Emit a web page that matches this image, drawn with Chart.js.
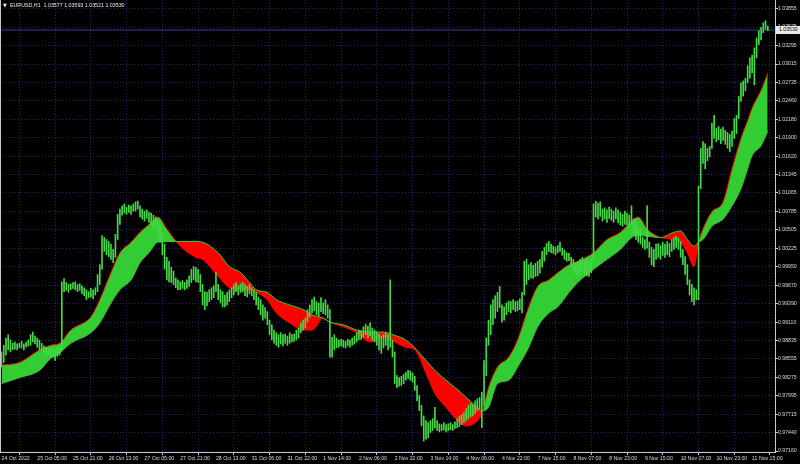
<!DOCTYPE html>
<html>
<head>
<meta charset="utf-8">
<script src="https://cdn.jsdelivr.net/npm/chart.js@4.4.0/dist/chart.umd.min.js"></script>
<style>
  html, body { margin: 0; padding: 0; background: #000; }
  canvas { display: block; }
</style>
</head>
<body>
<canvas id="chart" width="800" height="464"></canvas>
<script>
const symbolName = 'EURUSD,H1';
const lastBarOHLC = [1.03577, 1.03593, 1.03521, 1.03530];

// hourly bars, high / low
const barHigh = [
  0.9866,0.9876,0.9887,0.9892,0.9884,0.9879,0.9881,0.9878,0.9879,0.9882,0.9878,0.9881,0.9884,0.9892,0.9896,0.9890,
  0.9887,0.9884,0.9879,0.9875,0.9873,0.9872,0.9870,0.9872,0.9869,0.9873,0.9876,0.9972,0.9977,0.9971,0.9968,0.9969,
  0.9971,0.9972,0.9968,0.9969,0.9966,0.9963,0.9960,0.9957,0.9962,0.9960,0.9963,0.9983,0.9998,1.0042,1.0039,1.0036,
  1.0033,1.0029,1.0021,1.0044,1.0074,1.0082,1.0087,1.0090,1.0085,1.0088,1.0087,1.0090,1.0093,1.0094,1.0087,1.0082,
  1.0079,1.0081,1.0077,1.0076,1.0073,1.0070,1.0064,1.0058,1.0047,1.0029,1.0009,1.0003,0.9994,0.9988,0.9978,0.9975,
  0.9972,0.9974,0.9971,0.9975,0.9981,0.9991,0.9995,0.9994,0.9991,0.9983,0.9968,0.9957,0.9956,0.9960,0.9963,0.9966,
  0.9986,0.9968,0.9960,0.9957,0.9952,0.9956,0.9960,0.9963,0.9968,0.9971,0.9966,0.9969,0.9971,0.9968,0.9965,0.9968,
  0.9963,0.9960,0.9956,0.9949,0.9945,0.9937,0.9933,0.9927,0.9914,0.9907,0.9899,0.9895,0.9892,0.9895,0.9892,0.9893,
  0.9890,0.9895,0.9892,0.9893,0.9899,0.9902,0.9910,0.9914,0.9917,0.9930,0.9937,0.9945,0.9949,0.9942,0.9940,0.9948,
  0.9940,0.9945,0.9937,0.9930,0.9888,0.9892,0.9887,0.9884,0.9885,0.9884,0.9882,0.9885,0.9884,0.9887,0.9890,0.9895,
  0.9899,0.9898,0.9904,0.9908,0.9905,0.9910,0.9902,0.9899,0.9896,0.9893,0.9890,0.9892,0.9895,0.9892,0.9975,0.9884,
  0.9866,0.9830,0.9827,0.9829,0.9832,0.9835,0.9838,0.9837,0.9834,0.9829,0.9815,0.9800,0.9785,0.9769,0.9762,0.9759,
  0.9762,0.9765,0.9782,0.9762,0.9757,0.9756,0.9759,0.9756,0.9757,0.9759,0.9756,0.9760,0.9765,0.9769,0.9771,0.9774,
  0.9780,0.9785,0.9788,0.9786,0.9792,0.9795,0.9797,0.9805,0.9853,0.9887,0.9914,0.9937,0.9945,0.9951,0.9956,0.9965,
  0.9937,0.9934,0.9940,0.9943,0.9942,0.9945,0.9942,0.9943,0.9946,0.9956,1.0003,1.0006,0.9998,1.0001,0.9997,1.0000,
  1.0003,1.0006,1.0018,1.0024,1.0030,1.0033,1.0029,1.0026,1.0024,1.0027,1.0032,1.0023,1.0020,1.0016,1.0015,1.0009,
  1.0006,1.0001,1.0003,1.0006,1.0009,1.0004,1.0007,1.0003,1.0006,1.0090,1.0094,1.0091,1.0093,1.0082,1.0084,1.0081,
  1.0085,1.0082,1.0079,1.0084,1.0081,1.0077,1.0074,1.0079,1.0076,1.0073,1.0087,1.0067,1.0059,1.0056,1.0052,1.0039,
  1.0036,1.0087,1.0032,1.0024,1.0021,1.0029,1.0030,1.0027,1.0032,1.0029,1.0033,1.0030,1.0036,1.0039,1.0041,1.0038,
  1.0033,1.0021,1.0010,0.9998,0.9975,0.9968,0.9963,0.9960,1.0117,1.0174,1.0184,1.0181,1.0174,1.0177,1.0212,1.0224,
  1.0204,1.0207,1.0203,1.0206,1.0201,1.0198,1.0195,1.0200,1.0219,1.0224,1.0253,1.0273,1.0276,1.0280,1.0299,1.0311,
  1.0315,1.0326,1.0341,1.0352,1.0357,1.0364,1.0367,1.0359
];
const barLow = [
  0.9843,0.9850,0.9861,0.9869,0.9866,0.9869,0.9870,0.9869,0.9872,0.9872,0.9869,0.9873,0.9875,0.9876,0.9881,0.9878,
  0.9873,0.9869,0.9869,0.9864,0.9861,0.9862,0.9859,0.9858,0.9853,0.9859,0.9861,0.9869,0.9957,0.9959,0.9956,0.9960,
  0.9962,0.9960,0.9957,0.9959,0.9954,0.9951,0.9945,0.9948,0.9949,0.9946,0.9952,0.9957,0.9968,0.9991,1.0018,1.0013,
  1.0010,1.0006,1.0001,1.0009,1.0036,1.0059,1.0073,1.0076,1.0074,1.0077,1.0074,1.0079,1.0079,1.0082,1.0070,1.0067,
  1.0064,1.0068,1.0062,1.0059,1.0052,1.0055,1.0044,1.0032,1.0013,0.9991,0.9975,0.9972,0.9971,0.9968,0.9963,0.9960,
  0.9960,0.9962,0.9960,0.9962,0.9965,0.9971,0.9975,0.9972,0.9971,0.9957,0.9937,0.9930,0.9936,0.9942,0.9945,0.9948,
  0.9957,0.9945,0.9940,0.9934,0.9934,0.9937,0.9942,0.9948,0.9952,0.9957,0.9952,0.9956,0.9957,0.9951,0.9949,0.9954,
  0.9951,0.9945,0.9937,0.9930,0.9922,0.9914,0.9917,0.9907,0.9892,0.9884,0.9879,0.9876,0.9873,0.9878,0.9875,0.9879,
  0.9876,0.9879,0.9881,0.9882,0.9884,0.9887,0.9895,0.9899,0.9902,0.9911,0.9919,0.9925,0.9928,0.9922,0.9920,0.9927,
  0.9924,0.9922,0.9917,0.9858,0.9858,0.9869,0.9872,0.9873,0.9875,0.9873,0.9872,0.9875,0.9873,0.9876,0.9878,0.9881,
  0.9884,0.9885,0.9888,0.9892,0.9887,0.9890,0.9884,0.9881,0.9876,0.9869,0.9864,0.9872,0.9876,0.9869,0.9873,0.9858,
  0.9818,0.9812,0.9814,0.9815,0.9818,0.9823,0.9826,0.9823,0.9820,0.9808,0.9792,0.9777,0.9754,0.9731,0.9734,0.9736,
  0.9744,0.9747,0.9751,0.9747,0.9745,0.9747,0.9748,0.9745,0.9747,0.9748,0.9747,0.9750,0.9751,0.9753,0.9756,0.9759,
  0.9762,0.9765,0.9768,0.9769,0.9773,0.9777,0.9779,0.9751,0.9785,0.9830,0.9876,0.9892,0.9907,0.9917,0.9927,0.9933,
  0.9911,0.9914,0.9922,0.9927,0.9925,0.9930,0.9927,0.9928,0.9930,0.9925,0.9952,0.9968,0.9975,0.9978,0.9977,0.9980,
  0.9981,0.9985,0.9994,1.0003,1.0013,1.0018,1.0016,1.0015,1.0013,1.0016,1.0018,1.0012,1.0006,1.0003,1.0004,0.9994,
  0.9988,0.9983,0.9980,0.9983,0.9988,0.9985,0.9981,0.9980,0.9986,1.0003,1.0070,1.0067,1.0071,1.0064,1.0067,1.0062,
  1.0068,1.0065,1.0062,1.0067,1.0061,1.0058,1.0056,1.0059,1.0058,1.0056,1.0059,1.0044,1.0036,1.0032,1.0029,1.0024,
  1.0021,1.0023,1.0009,0.9998,0.9995,1.0006,1.0009,1.0006,1.0012,1.0009,1.0013,1.0010,1.0018,1.0021,1.0024,1.0021,
  1.0009,0.9998,0.9983,0.9968,0.9952,0.9942,0.9937,0.9945,0.9945,1.0113,1.0151,1.0143,1.0155,1.0161,1.0174,1.0189,
  1.0184,1.0187,1.0181,1.0186,1.0180,1.0174,1.0169,1.0177,1.0189,1.0196,1.0219,1.0245,1.0253,1.0261,1.0273,1.0280,
  1.0288,1.0270,1.0311,1.0331,1.0338,1.0349,1.0354,1.0352
];

// the two averages of the band, sampled at these bars
const bandBars = [0,8,17,22,26,31,40,44,49,53,58,62,66,70,74,80,87,90,97,102,107,111,114,119,123,129,135,139,144,147,
  153,159,165,171,176,181,185,190,194,199,203,208,212,215,218,222,227,231,236,240,245,249,254,258,262,265,271,277,283,285,
  289,295,301,304,307,310,312,314,318,323,327,331,334,336,340,343];
const fastLine = [0.9846,0.9850,0.9869,0.9876,0.9879,0.9899,0.9919,0.9945,0.9986,1.0016,1.0032,1.0047,1.0059,1.0070,1.0052,
  1.0026,1.0009,1.0006,0.9980,0.9963,0.9960,0.9960,0.9956,0.9945,0.9925,0.9910,0.9899,0.9899,0.9917,0.9911,0.9904,0.9895,
  0.9881,0.9888,0.9881,0.9873,0.9869,0.9834,0.9803,0.9782,0.9766,0.9754,0.9759,0.9773,0.9812,0.9843,0.9858,0.9884,0.9934,
  0.9965,0.9975,0.9986,0.9998,1.0003,1.0010,1.0016,1.0036,1.0047,1.0067,1.0070,1.0052,1.0039,1.0036,1.0032,1.0016,0.9995,
  1.0032,1.0052,1.0078,1.0093,1.0143,1.0189,1.0216,1.0235,1.0262,1.0288];
const slowLine = [0.9818,0.9827,0.9838,0.9856,0.9864,0.9879,0.9895,0.9910,0.9940,0.9960,0.9975,1.0001,1.0016,1.0032,1.0033,
  1.0033,1.0033,1.0032,1.0016,0.9995,0.9986,0.9971,0.9960,0.9956,0.9945,0.9937,0.9930,0.9922,0.9917,0.9911,0.9907,0.9899,
  0.9896,0.9896,0.9891,0.9884,0.9872,0.9853,0.9838,0.9823,0.9812,0.9797,0.9785,0.9777,0.9782,0.9818,0.9823,0.9843,0.9873,
  0.9904,0.9925,0.9934,0.9956,0.9971,0.9983,0.9991,1.0006,1.0021,1.0041,1.0042,1.0041,1.0039,1.0047,1.0049,1.0036,1.0026,
  1.0032,1.0036,1.0056,1.0067,1.0087,1.0113,1.0143,1.0163,1.0178,1.0200];

const xTickLabels = ['24 Oct 2022','25 Oct 05:00','25 Oct 21:00','26 Oct 13:00','27 Oct 05:00','27 Oct 21:00',
  '28 Oct 13:00','31 Oct 06:00','31 Oct 22:00','1 Nov 14:00','2 Nov 06:00','2 Nov 22:00','3 Nov 14:00','4 Nov 06:00',
  '4 Nov 22:00','7 Nov 15:00','8 Nov 07:00','8 Nov 23:00','9 Nov 15:00','10 Nov 07:00','10 Nov 23:00','11 Nov 15:00'];
const yTickLabels = ['1.03855','1.03575','1.03295','1.03015','1.02735','1.02460','1.02180','1.01900','1.01620',
  '1.01345','1.01065','1.00785','1.00505','1.00225','0.99950','0.99670','0.99390','0.99110','0.98835','0.98555',
  '0.98275','0.97995','0.97715','0.97440','0.97160'];

const FONT = '"Liberation Sans", Arial, sans-serif';
const GRID = '#26266e';
const AXIS = '#c8c8c8';

// no extra room for overhanging labels: the plot fills the frame
function noPadding(s) {
  s.paddingTop = 0; s.paddingBottom = 0; s.paddingLeft = 0; s.paddingRight = 0;
}

const chartOverlay = {
  id: 'chartOverlay',
  afterDraw(chart) {
    const { ctx, chartArea: a, scales: { y } } = chart;
    ctx.save();
    // left frame
    ctx.strokeStyle = AXIS;
    ctx.lineWidth = 1;
    ctx.beginPath();
    ctx.moveTo(a.left + 0.5, a.top);
    ctx.lineTo(a.left + 0.5, a.bottom);
    ctx.stroke();
    // symbol line
    ctx.fillStyle = '#ececec';
    ctx.textBaseline = 'middle';
    ctx.font = '5px "DejaVu Sans"';
    ctx.fillText('\u25BC', 3, 6);
    ctx.font = '5.3px ' + FONT;
    ctx.fillText(symbolName + '  ' + lastBarOHLC.map(v => v.toFixed(5)).join(' '), 10, 6);
    // last price tag on the axis
    const py = Math.round(y.getPixelForValue(lastBarOHLC[3]));
    ctx.fillStyle = '#e8e8e8';
    ctx.fillRect(a.right + 1, py - 4, 24, 8);
    ctx.fillStyle = '#000';
    ctx.font = '5.2px ' + FONT;
    ctx.fillText(lastBarOHLC[3].toFixed(5), a.right + 4, py);
    ctx.restore();
  }
};

const lastBar = barHigh.length - 1;

new Chart(document.getElementById('chart'), {
  type: 'bar',
  data: {
    datasets: [
      {
        type: 'line',
        label: 'fast',
        data: bandBars.map((b, k) => ({ x: b, y: fastLine[k] })),
        borderColor: '#ff0000',
        borderWidth: 1,
        pointRadius: 0,
        cubicInterpolationMode: 'monotone',
        fill: { target: 1, above: '#32cd32', below: '#ff0000' },
        order: 3
      },
      {
        type: 'line',
        label: 'slow',
        data: bandBars.map((b, k) => ({ x: b, y: slowLine[k] })),
        borderColor: '#32cd32',
        borderWidth: 1,
        pointRadius: 0,
        cubicInterpolationMode: 'monotone',
        fill: false,
        order: 2
      },
      {
        type: 'line',
        label: 'last',
        data: [{ x: -1, y: lastBarOHLC[3] }, { x: lastBar + 5, y: lastBarOHLC[3] }],
        borderColor: '#3a3a8c',
        borderWidth: 1,
        pointRadius: 0,
        fill: false,
        order: 1
      },
      {
        type: 'bar',
        label: 'bars',
        data: barHigh.map((h, i) => ({ x: i, y: [barLow[i], h] })),
        backgroundColor: '#46d846',
        borderWidth: 0,
        barThickness: 1,
        grouped: false,
        order: 0
      }
    ]
  },
  options: {
    responsive: false,
    devicePixelRatio: 1,
    animation: false,
    layout: { padding: 0 },
    plugins: {
      legend: { display: false },
      tooltip: { enabled: false }
    },
    scales: {
      x: {
        type: 'linear',
        offset: false,
        min: -0.67,
        max: 346.24,
        afterFit(s) { s.height = 12; noPadding(s); },
        afterBuildTicks(s) { s.ticks = xTickLabels.map((t, k) => ({ value: k * 16 })); },
        grid: { color: GRID, lineWidth: 1, drawTicks: true, tickLength: 3, tickColor: AXIS, tickBorderDash: [] },
        border: { display: true, color: AXIS, width: 1, dash: [1, 2] },
        ticks: {
          autoSkip: false, maxRotation: 0, align: 'start', padding: 0,
          color: '#dcdcdc', font: { family: FONT, size: 5.2 },
          callback: (v, i) => xTickLabels[i]
        }
      },
      y: {
        type: 'linear',
        position: 'right',
        min: 0.97145,
        max: 1.03984,
        afterFit(s) { s.width = 25; noPadding(s); },
        afterBuildTicks(s) { s.ticks = yTickLabels.map(t => ({ value: parseFloat(t) })); },
        grid: { color: GRID, lineWidth: 1, drawTicks: true, tickLength: 3, tickColor: AXIS, tickBorderDash: [] },
        border: { display: true, color: AXIS, width: 1, dash: [1, 2] },
        ticks: {
          autoSkip: false, padding: 0,
          color: '#dcdcdc', font: { family: FONT, size: 5.2 },
          callback: (v, i) => yTickLabels[i]
        }
      }
    }
  },
  plugins: [chartOverlay]
});
</script>
</body>
</html>
